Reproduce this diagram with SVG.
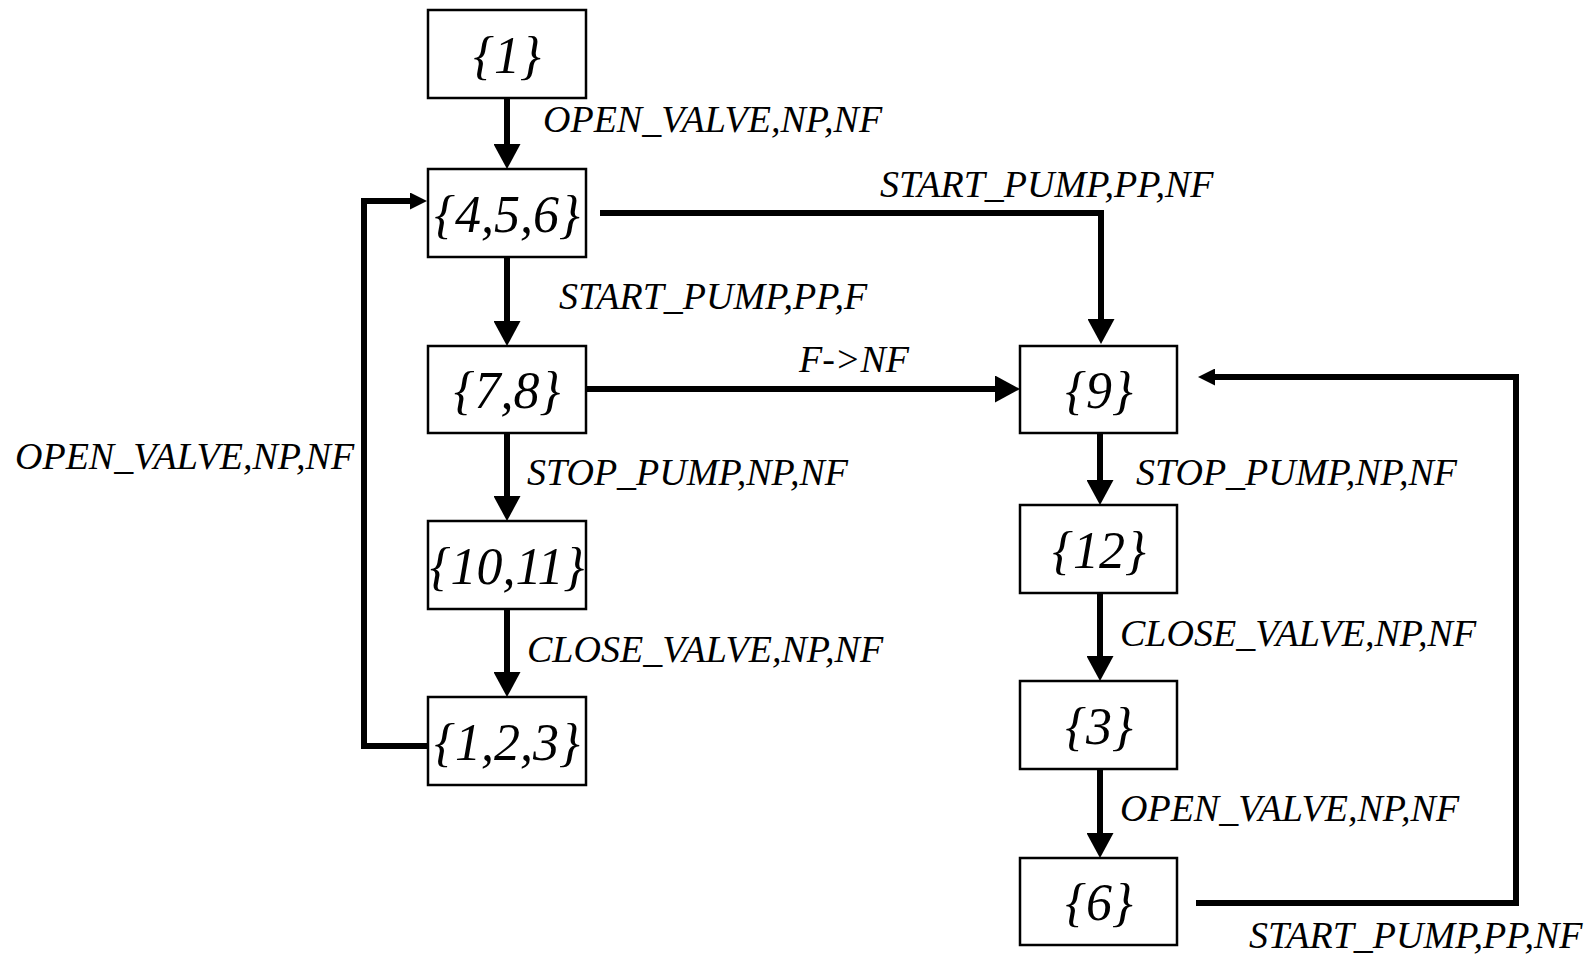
<svg xmlns="http://www.w3.org/2000/svg" width="1594" height="957" viewBox="0 0 1594 957">
<style>
.box{fill:#fff;stroke:#000;stroke-width:2.5}
.nl{font-family:"Liberation Serif","Times New Roman",serif;font-style:italic;font-size:52px;text-anchor:middle;fill:#000}
.el{font-family:"Liberation Serif","Times New Roman",serif;font-style:italic;font-size:38px;fill:#000}
.c{fill:none;stroke:#000;stroke-width:6}
.cb{marker-end:url(#ab)}
.cs{marker-end:url(#as)}
</style>
<defs>
<marker id="ab" markerUnits="userSpaceOnUse" markerWidth="25" markerHeight="27" refX="0" refY="13.5" orient="auto"><path d="M0,0 L25,13.5 L0,27 z" fill="#000"/></marker>
<marker id="as" markerUnits="userSpaceOnUse" markerWidth="17" markerHeight="17" refX="0" refY="8.5" orient="auto"><path d="M0,0 L17,8.5 L0,17 z" fill="#000"/></marker>
</defs>
<rect width="1594" height="957" fill="#fff"/>
<g id="connectors">
<path class="c cb" d="M507,98 V144"/>
<path class="c cb" d="M507,257 V321"/>
<path class="c cb" d="M507,433 V496"/>
<path class="c cb" d="M507,609 V672"/>
<path class="c cb" d="M600,213 H1101 V319"/>
<path class="c cb" d="M586,389 H995"/>
<path class="c cb" d="M1100,433 V480"/>
<path class="c cb" d="M1100,593 V656"/>
<path class="c cb" d="M1100,769 V833"/>
<path class="c cs" d="M427,746 H364 V201 H410"/>
<path class="c cs" d="M1196,903 H1516 V377 H1215"/>
<text class="el" x="543" y="132">OPEN_VALVE,NP,NF</text>
<text class="el" x="880" y="197">START_PUMP,PP,NF</text>
<text class="el" x="559" y="309">START_PUMP,PP,F</text>
<text class="el" x="799" y="372">F-&gt;NF</text>
<text class="el" x="15" y="469">OPEN_VALVE,NP,NF</text>
<text class="el" x="527" y="485">STOP_PUMP,NP,NF</text>
<text class="el" x="527" y="662">CLOSE_VALVE,NP,NF</text>
<text class="el" x="1136" y="485">STOP_PUMP,NP,NF</text>
<text class="el" x="1120" y="646">CLOSE_VALVE,NP,NF</text>
<text class="el" x="1120" y="821">OPEN_VALVE,NP,NF</text>
<text class="el" x="1249" y="948">START_PUMP,PP,NF</text>
</g>
<g id="n1"><rect class="box" x="428" y="10" width="158" height="88"/><text class="nl" x="507" y="73">{1}</text></g>
<g id="n456"><rect class="box" x="428" y="169" width="158" height="88"/><text class="nl" x="507" y="232">{4,5,6}</text></g>
<g id="n78"><rect class="box" x="428" y="346" width="158" height="87"/><text class="nl" x="507" y="408">{7,8}</text></g>
<g id="n1011"><rect class="box" x="428" y="521" width="158" height="88"/><text class="nl" x="507" y="584">{10,11}</text></g>
<g id="n123"><rect class="box" x="428" y="697" width="158" height="88"/><text class="nl" x="507" y="760">{1,2,3}</text></g>
<g id="n9"><rect class="box" x="1020" y="346" width="157" height="87"/><text class="nl" x="1099" y="408">{9}</text></g>
<g id="n12"><rect class="box" x="1020" y="505" width="157" height="88"/><text class="nl" x="1099" y="568">{12}</text></g>
<g id="n3"><rect class="box" x="1020" y="681" width="157" height="88"/><text class="nl" x="1099" y="744">{3}</text></g>
<g id="n6"><rect class="box" x="1020" y="858" width="157" height="87"/><text class="nl" x="1099" y="920">{6}</text></g>
</svg>
